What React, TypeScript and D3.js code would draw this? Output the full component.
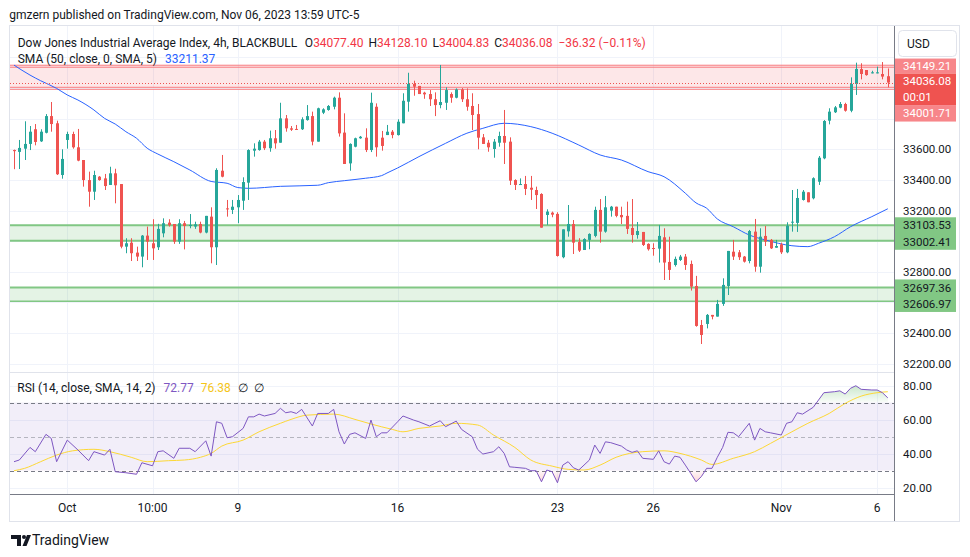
import React from "react";
import * as d3 from "d3";

// ---------- DATA (4h candles) ----------
const opens = [
  33595, 33583, 33604, 33635, 33731, 33652, 33708, 33817, 33770, 33432,
  33661, 33700, 33613, 33530, 33399, 33323, 33421, 33410, 33367, 33443,
  33373, 32964, 32990, 32925, 32899, 33036, 32986, 32960, 33051, 33121,
  33112, 32997, 33117, 33099, 33095, 33112, 33056, 33160, 32960, 33460,
  33214, 33204, 33221, 33264, 33382, 33591, 33595, 33650, 33607, 33672,
  33643, 33802, 33737, 33733, 33731, 33791, 33817, 33650, 33839, 33857,
  33878, 33937, 33709, 33508, 33617, 33672, 33676, 33595, 33878, 33676,
  33693, 33715, 33693, 33770, 33911, 34027, 34014, 33970, 33961, 33927,
  33889, 33904, 33961, 33937, 33991, 33927, 33883, 33830, 33678, 33643,
  33602, 33643, 33687, 33650, 33399, 33369, 33373, 33349, 33334, 33308,
  33171, 33186, 33178, 32895, 33064, 33112, 32995, 32942, 33008, 33034,
  33204, 33062, 33199, 33225, 33171, 33165, 33086, 33040, 33060, 32982,
  32955, 32951, 33025, 32864, 32844, 32877, 32899, 32851, 32707, 32452,
  32459, 32518, 32507, 32590, 32707, 32931, 32927, 32899, 32870, 33062,
  32833, 33034, 33008, 32957, 32979, 32927, 33123, 33119, 33269, 33319,
  33280, 33388, 33541, 33787, 33842, 33872, 33896, 33852, 34027, 34124,
  34118, 34096, 34096, 34092, 34077.4,
];
const highs = [
  33598, 33661, 33783, 33752, 33765, 33731, 33830, 33909, 33787, 33600,
  33715, 33715, 33733, 33530, 33454, 33460, 33425, 33439, 33486, 33473,
  33373, 33019, 33019, 32964, 33040, 33095, 33143, 33113, 33149, 33143,
  33112, 33143, 33132, 33177, 33127, 33127, 33165, 33221, 33476, 33563,
  33269, 33269, 33301, 33417, 33600, 33639, 33661, 33661, 33722, 33726,
  33904, 33824, 33752, 33759, 33809, 33889, 33846, 33872, 33868, 33889,
  33944, 33972, 33835, 33639, 33676, 33687, 33737, 33970, 33900, 33720,
  33759, 33726, 33796, 33966, 34100, 34048, 34014, 33976, 33987, 33972,
  34151, 34005, 33972, 33998, 34000, 33998, 33966, 33896, 33700, 33661,
  33667, 33715, 33857, 33678, 33404, 33410, 33426, 33426, 33356, 33313,
  33208, 33193, 33189, 33077, 33236, 33138, 33019, 33019, 33051, 33225,
  33275, 33295, 33230, 33225, 33225, 33258, 33275, 33125, 33060, 32986,
  32986, 33106, 33084, 33029, 32899, 32910, 32916, 32873, 32773, 32485,
  32524, 32518, 32616, 32757, 32936, 33008, 32942, 32903, 33073, 33145,
  33084, 33099, 33014, 33008, 32990, 33123, 33334, 33341, 33334, 33319,
  33417, 33556, 33791, 33868, 33883, 33909, 33904, 34070, 34166, 34162,
  34118, 34113, 34140, 34170, 34128.1,
];
const lows = [
  33470, 33471, 33530, 33595, 33626, 33648, 33704, 33715, 33432, 33408,
  33604, 33604, 33522, 33356, 33225, 33269, 33395, 33334, 33367, 33247,
  32953, 32921, 32870, 32870, 32829, 32877, 32877, 32942, 33025, 33095,
  32982, 32982, 32946, 33084, 33080, 33051, 33051, 32855, 32844, 33417,
  33160, 33177, 33117, 33204, 33269, 33552, 33591, 33595, 33584, 33604,
  33643, 33715, 33720, 33726, 33726, 33787, 33626, 33650, 33830, 33852,
  33861, 33683, 33504, 33460, 33613, 33669, 33582, 33582, 33552, 33591,
  33693, 33672, 33690, 33770, 33846, 33950, 33961, 33930, 33883, 33817,
  33868, 33857, 33904, 33933, 33909, 33852, 33726, 33600, 33635, 33584,
  33545, 33617, 33504, 33367, 33334, 33367, 33301, 33269, 33210, 33088,
  33106, 33156, 32899, 32888, 33029, 32916, 32929, 32942, 32947, 33025,
  32990, 33055, 33160, 33156, 33112, 33047, 32990, 33016, 32968, 32938,
  32905, 32860, 32746, 32746, 32834, 32870, 32812, 32677, 32441, 32328,
  32430, 32489, 32507, 32577, 32648, 32877, 32877, 32860, 32855, 32800,
  32794, 32968, 32949, 32957, 32916, 32921, 33062, 33060, 33265, 33254,
  33273, 33367, 33535, 33763, 33837, 33868, 33846, 33842, 33955, 34057,
  34081, 34096, 34096, 34057, 34004.83,
];
const closes = [
  33588, 33609, 33635, 33715, 33648, 33715, 33817, 33765, 33437, 33537,
  33700, 33613, 33526, 33399, 33323, 33432, 33399, 33360, 33443, 33365,
  32964, 32986, 32921, 32899, 33036, 32997, 32953, 33080, 33117, 33104,
  32997, 33117, 33099, 33106, 33110, 33056, 33165, 32960, 33465, 33421,
  33208, 33225, 33269, 33386, 33595, 33604, 33650, 33607, 33672, 33639,
  33802, 33737, 33728, 33728, 33796, 33817, 33650, 33868, 33861, 33883,
  33937, 33704, 33504, 33635, 33672, 33682, 33595, 33904, 33613, 33622,
  33715, 33693, 33780, 33917, 34027, 34009, 33961, 33959, 33927, 33889,
  33909, 33987, 33937, 33991, 33927, 33878, 33824, 33676, 33635, 33613,
  33650, 33687, 33643, 33395, 33367, 33373, 33341, 33336, 33301, 33088,
  33193, 33173, 32903, 33077, 33112, 32990, 32938, 33014, 33047, 33204,
  33062, 33221, 33225, 33165, 33156, 33080, 33040, 33066, 32975, 32947,
  32951, 33034, 32860, 32812, 32884, 32899, 32844, 32703, 32446, 32387,
  32518, 32507, 32590, 32714, 32936, 32899, 32895, 32866, 33066, 32833,
  33029, 32997, 32953, 32968, 32927, 33101, 33127, 33282, 33323, 33254,
  33411, 33545, 33785, 33846, 33874, 33896, 33852, 34027, 34125, 34092,
  34085, 34103, 34103, 34075, 34036.08,
];

// SMA(50) line: bar index -> value
const smaIdx = [0, 3, 5, 8, 10, 12, 15, 17, 19, 21, 23, 25, 27, 30, 33, 37, 40, 42, 44, 50, 57, 59, 62, 66, 69, 70, 72, 76, 81, 85, 88, 92, 97, 101, 106, 110, 114, 119, 122, 126, 128, 130, 132, 135, 138, 141, 146, 149, 151, 154, 157, 161, 164];
const smaVal = [34150, 34085, 34048, 33998, 33955, 33922, 33857, 33802, 33765, 33715, 33672, 33607, 33569, 33519, 33465, 33390, 33378, 33350, 33345, 33358, 33365, 33382, 33395, 33411, 33428, 33445, 33478, 33552, 33639, 33705, 33737, 33770, 33748, 33705, 33628, 33563, 33530, 33454, 33421, 33313, 33250, 33215, 33145, 33094, 33040, 33008, 32970, 32964, 32986, 33029, 33094, 33160, 33211.37];

// RSI(14)
const rsiIdx = [0, 1, 3, 4, 6, 7, 8, 10, 12, 14, 15, 17, 18, 19, 21, 23, 24, 26, 27, 28, 30, 31, 33, 34, 36, 37, 38, 39, 40, 41, 43, 44, 45, 46, 47, 49, 50, 51, 52, 53, 54, 56, 57, 59, 60, 61, 62, 63, 64, 66, 67, 68, 69, 70, 72, 73, 75, 76, 78, 79, 80, 81, 83, 84, 86, 87, 88, 90, 91, 92, 93, 94, 96, 97, 98, 99, 100, 101, 102, 103, 104, 105, 106, 108, 109, 110, 111, 112, 114, 115, 116, 117, 118, 120, 121, 122, 123, 124, 125, 126, 127, 128, 129, 130, 131, 132, 133, 134, 135, 136, 138, 139, 140, 141, 142, 144, 145, 146, 147, 148, 150, 151, 152, 154, 155, 156, 157, 158, 159, 161, 162, 163, 164];
const rsiVal = [35.2, 36.2, 43.6, 41.1, 51.3, 48.9, 35.2, 47.9, 42.1, 35.8, 41.1, 39.1, 42.5, 29.3, 28.7, 27.8, 34.6, 32.8, 41.1, 41.6, 37.2, 43.1, 43.1, 41.1, 47.5, 38.5, 58.7, 57.8, 49.3, 49.9, 54.8, 61.6, 61.6, 63.2, 62.1, 63.6, 66.6, 64, 64.6, 63.6, 66, 56.2, 63.6, 63.6, 66, 52.8, 45.6, 51.3, 52.2, 48.9, 59.7, 49.9, 52.2, 52.2, 58.7, 62.1, 59.7, 58.7, 56.2, 57.8, 59.3, 55.8, 59.1, 54.2, 49.9, 42.5, 39.7, 41.1, 44, 40.1, 32.2, 31.9, 31.3, 29.9, 29.9, 23.4, 30.3, 29.3, 22.8, 33.2, 35.2, 31.6, 30.3, 36.2, 45, 40.1, 46.9, 46.4, 44.4, 42.1, 40.7, 41.6, 37.2, 36.6, 41.6, 35.2, 33.8, 38.5, 37.8, 33.2, 28.4, 23.4, 26.4, 31.3, 31.3, 37.8, 43.6, 52.5, 52.2, 49.9, 57.8, 47.9, 54.8, 52.8, 52.2, 50.9, 57.8, 58.7, 64, 63.2, 67.2, 71.5, 75.8, 76.4, 76.9, 75, 78.4, 79.9, 77.8, 77.4, 77.4, 75.8, 72.77];
// RSI-based SMA(14)
const rsiMaIdx = [0, 2, 5, 8, 11, 15, 18, 22, 25, 29, 32, 35, 37, 39, 43, 46, 50, 52, 55, 60, 64, 67, 71, 73, 76, 80, 83, 87, 90, 94, 97, 101, 104, 107, 110, 113, 118, 122, 125, 129, 131, 135, 139, 142, 146, 149, 153, 156, 159, 162, 164];
const rsiMaVal = [29.9, 31.3, 35.2, 39.1, 41.6, 42.5, 41.1, 37.8, 35.2, 35.8, 36.2, 37.8, 40.1, 44.4, 47.9, 52.8, 57.8, 60.1, 62.6, 63.2, 60.1, 57.4, 54.2, 52.8, 54.8, 56.2, 57.8, 56.8, 50.9, 43.6, 36.2, 32.6, 30.7, 30.3, 33.2, 37.8, 41.1, 41.6, 40.1, 36.2, 33.6, 37.2, 41.1, 46, 52.8, 57.8, 63.6, 69.5, 73.8, 75.8, 76.38];

const xTickIdx = [10, 26, 42, 72, 102, 120, 144, 162];
const xTickLabels = ["Oct", "10:00", "9", "16", "23", "26", "Nov", "6"];
const priceTicks = [32200, 32400, 32600, 32800, 33000, 33200, 33400, 33600, 33800, 34000, 34200];
const rsiTicks = [20, 40, 60, 80];
const rsiLevels = [70, 50, 30];

const redZone = [34001.71, 34149.21];
const greenZones = [
  [33002.41, 33103.53],
  [32606.97, 32697.36],
];

const publishedText = "gmzern published on TradingView.com, Nov 06, 2023 13:59 UTC-5";
const symbolTitle = "Dow Jones Industrial Average Index, 4h, BLACKBULL";
const ohlcLetters = ["O", "H", "L", "C"];
const changeText = "\u221236.32 (\u22120.11%)";
const smaTitle = "SMA (50, close, 0, SMA, 5)";
const rsiTitle = "RSI (14, close, SMA, 14, 2)";
const countdown = "00:01";

const FONT = "Roboto, 'Liberation Sans', Arial, sans-serif";
const TXT = "#131722";
const UP = "#26a69a";
const DOWN = "#ef5350";

export default function App() {
  const L = 10, R = 894, T = 26, MB = 372.5, RB = 494.5, FR = 959.5, FB = 521.5;
  const n = closes.length;
  const x = d3.scaleLinear().domain([0, n - 1]).range([14, 887.8]);
  const y = d3.scaleLinear().domain([32145, 34399]).range([372, 27]);
  const ry = d3.scaleLinear().domain([15.9, 87.4]).range([494.5, 373]);

  const smaPath = d3.line<number>().x((_, i) => x(smaIdx[i])).y((d) => y(d)).curve(d3.curveMonotoneX)(smaVal) || "";
  const rsiPath = d3.line<number>().x((_, i) => x(rsiIdx[i])).y((d) => ry(d))(rsiVal) || "";
  const rsiMaPath = d3.line<number>().x((_, i) => x(rsiMaIdx[i])).y((d) => ry(d)).curve(d3.curveMonotoneX)(rsiMaVal) || "";
  const obArea = d3.area<number>().x((_, i) => x(rsiIdx[i])).y0(ry(70)).y1((d) => ry(d))(rsiVal) || "";
  const osArea = d3.area<number>().x((_, i) => x(rsiIdx[i])).y0(ry(30)).y1((d) => ry(d))(rsiVal) || "";

  const last = n - 1;
  const lastClose = closes[last];
  const ohlcVals = [opens[last], highs[last], lows[last], closes[last]];

  // right-side price labels
  const cTop = y(lastClose) - 9;
  const cBot = cTop + 31.5;
  const boxes: { top: number; h: number; lines: string[]; fill: string; color: string }[] = [
    { top: cTop - 15, h: 15, lines: [redZone[1].toFixed(2)], fill: "#f7868a", color: "#fff" },
    { top: cTop, h: cBot - cTop, lines: [lastClose.toFixed(2), countdown], fill: DOWN, color: "#fff" },
    { top: cBot, h: 16.5, lines: [redZone[0].toFixed(2)], fill: "#f7868a", color: "#fff" },
  ];
  greenZones.forEach((z) => {
    const t = y(z[1]) - 8;
    boxes.push({ top: t, h: 32.5, lines: [z[1].toFixed(2), z[0].toFixed(2)], fill: "#81c784", color: TXT });
  });
  const visibleTicks = priceTicks.filter((p) => {
    const yy = y(p);
    if (yy < T + 8 || yy > MB - 4) return false;
    return !boxes.some((b) => yy + 6 > b.top && yy - 6 < b.top + b.h);
  });

  const LF = 12; // legend font size

  return (
    <svg width={970} height={557} style={{ position: "absolute", left: 0, top: 0, background: "#fff" }} fontFamily={FONT}>
      <defs>
        <clipPath id="mainClip"><rect x={L} y={T} width={R - L} height={MB - T} /></clipPath>
        <clipPath id="obClip"><rect x={L} y={T} width={R - L} height={ry(70) - T} /></clipPath>
        <clipPath id="osClip"><rect x={L} y={ry(30)} width={R - L} height={RB - ry(30)} /></clipPath>
        <linearGradient id="obGrad" gradientUnits="userSpaceOnUse" x1={0} x2={0} y1={ry(82)} y2={ry(70)}>
          <stop offset="0" stopColor="rgba(76,175,80,0.35)" />
          <stop offset="1" stopColor="rgba(76,175,80,0.03)" />
        </linearGradient>
        <linearGradient id="osGrad" gradientUnits="userSpaceOnUse" x1={0} x2={0} y1={ry(30)} y2={ry(20)}>
          <stop offset="0" stopColor="rgba(242,54,69,0.03)" />
          <stop offset="1" stopColor="rgba(242,54,69,0.3)" />
        </linearGradient>
      </defs>
      <rect x={0} y={0} width={970} height={557} fill="#fff" />

      <text x={9.3} y={15} fontSize={LF} fill={TXT} dominantBaseline="central">{publishedText}</text>

      {/* grid */}
      {priceTicks.map((p) => (
        <line key={"hg" + p} x1={L} x2={R} y1={Math.round(y(p)) + 0.5} y2={Math.round(y(p)) + 0.5} stroke="#f0f3fa" />
      ))}
      {rsiTicks.map((v) => (
        <line key={"rg" + v} x1={L} x2={R} y1={Math.round(ry(v)) + 0.5} y2={Math.round(ry(v)) + 0.5} stroke="#f0f3fa" />
      ))}
      {xTickIdx.map((i) => (
        <line key={"vg" + i} x1={Math.round(x(i)) + 0.5} x2={Math.round(x(i)) + 0.5} y1={T} y2={RB} stroke="#f0f3fa" />
      ))}

      {/* zones */}
      <g clipPath="url(#mainClip)">
        <rect x={L} width={R - L} y={y(redZone[1])} height={y(redZone[0]) - y(redZone[1])} fill="rgba(242,54,69,0.12)" />
        {[y(redZone[1]), y(redZone[1]) + 2, y(redZone[0]) - 0.5, y(redZone[0]) + 1.5].map((yy, k) => (
          <line key={"rl" + k} x1={L} x2={R} y1={yy} y2={yy} stroke="#f77c80" strokeWidth={1} />
        ))}
        {greenZones.map((z, k) => (
          <g key={"gz" + k}>
            <rect x={L} width={R - L} y={y(z[1])} height={y(z[0]) - y(z[1])} fill="rgba(76,175,80,0.15)" />
            <line x1={L} x2={R} y1={y(z[1])} y2={y(z[1])} stroke="#81c784" strokeWidth={2} />
            <line x1={L} x2={R} y1={y(z[0])} y2={y(z[0])} stroke="#81c784" strokeWidth={k === 1 ? 1.5 : 2} />
          </g>
        ))}
        <path d={smaPath} fill="none" stroke="#2962ff" strokeWidth={1} />
        {opens.map((o, i) => {
          const c = closes[i];
          const col = c >= o ? UP : DOWN;
          const cx = Math.round(x(i));
          const yt = y(Math.max(o, c));
          const yb = y(Math.min(o, c));
          return (
            <g key={"c" + i}>
              <line x1={cx + 0.5} x2={cx + 0.5} y1={y(highs[i])} y2={y(lows[i])} stroke={col} strokeWidth={1} />
              <rect x={cx - 1} width={3} y={yt} height={Math.max(1, yb - yt)} fill={col} />
            </g>
          );
        })}
        <line x1={L} x2={R} y1={Math.round(y(lastClose)) + 0.5} y2={Math.round(y(lastClose)) + 0.5} stroke={DOWN} strokeDasharray="1 2" />
      </g>

      {/* legend main */}
      <text x={17.7} y={42.7} fontSize={LF} fill={TXT} dominantBaseline="central">
        {symbolTitle}
        {ohlcLetters.map((l, k) => (
          <React.Fragment key={"ohlc" + k}>
            <tspan dx={k === 0 ? 8 : 5} fill={TXT}>{l}</tspan>
            <tspan fill="#f23645">{ohlcVals[k].toFixed(2)}</tspan>
          </React.Fragment>
        ))}
        <tspan dx={6} fill="#f23645">{changeText}</tspan>
      </text>
      <text x={17.7} y={59.3} fontSize={LF} fill={TXT} dominantBaseline="central">
        {smaTitle}
        <tspan dx={8} fill="#2962ff">{smaVal[smaVal.length - 1].toFixed(2)}</tspan>
      </text>

      {/* RSI pane */}
      <rect x={L} width={R - L} y={ry(70)} height={ry(30) - ry(70)} fill="rgba(126,87,194,0.1)" />
      {rsiLevels.map((v) => (
        <line key={"lv" + v} x1={L} x2={R} y1={Math.round(ry(v)) + 0.5} y2={Math.round(ry(v)) + 0.5}
          stroke={v === 50 ? "rgba(120,123,134,0.5)" : "#787b86"} strokeDasharray="4 3" />
      ))}
      <path d={obArea} fill="url(#obGrad)" clipPath="url(#obClip)" />
      <path d={osArea} fill="url(#osGrad)" clipPath="url(#osClip)" />
      <path d={rsiMaPath} fill="none" stroke="#fdd835" strokeWidth={1} />
      <path d={rsiPath} fill="none" stroke="#7e57c2" strokeWidth={1} />
      <text x={17.3} y={388} fontSize={LF} fill={TXT} dominantBaseline="central">
        {rsiTitle}
        <tspan dx={8} fill="#7e57c2">{rsiVal[rsiVal.length - 1].toFixed(2)}</tspan>
        <tspan dx={7} fill="#f5c518">{rsiMaVal[rsiMaVal.length - 1].toFixed(2)}</tspan>
        <tspan dx={7} fill={TXT}>{"\u2205"}</tspan>
        <tspan dx={6} fill={TXT}>{"\u2205"}</tspan>
      </text>

      {/* frame & separators */}
      <line x1={L} x2={R} y1={MB} y2={MB} stroke="#e0e3eb" />
      <line x1={L} x2={R} y1={RB} y2={RB} stroke="#787b86" />
      <line x1={R + 0.5} x2={R + 0.5} y1={T} y2={FB} stroke="#787b86" />
      <rect x={L - 0.5} y={T - 0.5} width={FR - L + 0.5} height={FB - T + 0.5} fill="none" stroke="#e0e3eb" />

      {/* price axis */}
      {visibleTicks.map((p) => (
        <text key={"pt" + p} x={903} y={y(p)} fontSize={11.5} fill={TXT} dominantBaseline="central">{p.toFixed(2)}</text>
      ))}
      {rsiTicks.map((v) => (
        <text key={"rt" + v} x={903} y={ry(v)} fontSize={11.5} fill={TXT} dominantBaseline="central">{v.toFixed(2)}</text>
      ))}
      {boxes.map((b, k) => (
        <g key={"bx" + k}>
          <rect x={R + 1} y={b.top} width={956 - R - 1} height={b.h} fill={b.fill} />
          {b.lines.map((s, j) => (
            <text key={j} x={903} y={b.top + b.h / b.lines.length * (j + 0.5)} fontSize={11.5} fill={b.color} dominantBaseline="central">{s}</text>
          ))}
        </g>
      ))}
      <rect x={898.5} y={30.5} width={58} height={26} rx={4} fill="#fff" stroke="#e0e3eb" />
      <text x={907} y={44} fontSize={12} fill={TXT} dominantBaseline="central">USD</text>

      {/* time axis */}
      {xTickIdx.map((i, k) => (
        <text key={"xt" + i} x={x(i)} y={507.5} fontSize={12} fill={TXT} textAnchor="middle" dominantBaseline="central">{xTickLabels[k]}</text>
      ))}

      {/* logo */}
      <g fill={TXT}>
        <path d="M11 535 H21 V546 H17 V539 H11 Z" />
        <circle cx={24} cy={537} r={2} />
        <path d="M27 535 H31 L26.5 546 H22.5 Z" />
      </g>
      <text x={32} y={540} fontSize={14} fill={TXT} dominantBaseline="central">TradingView</text>
    </svg>
  );
}
